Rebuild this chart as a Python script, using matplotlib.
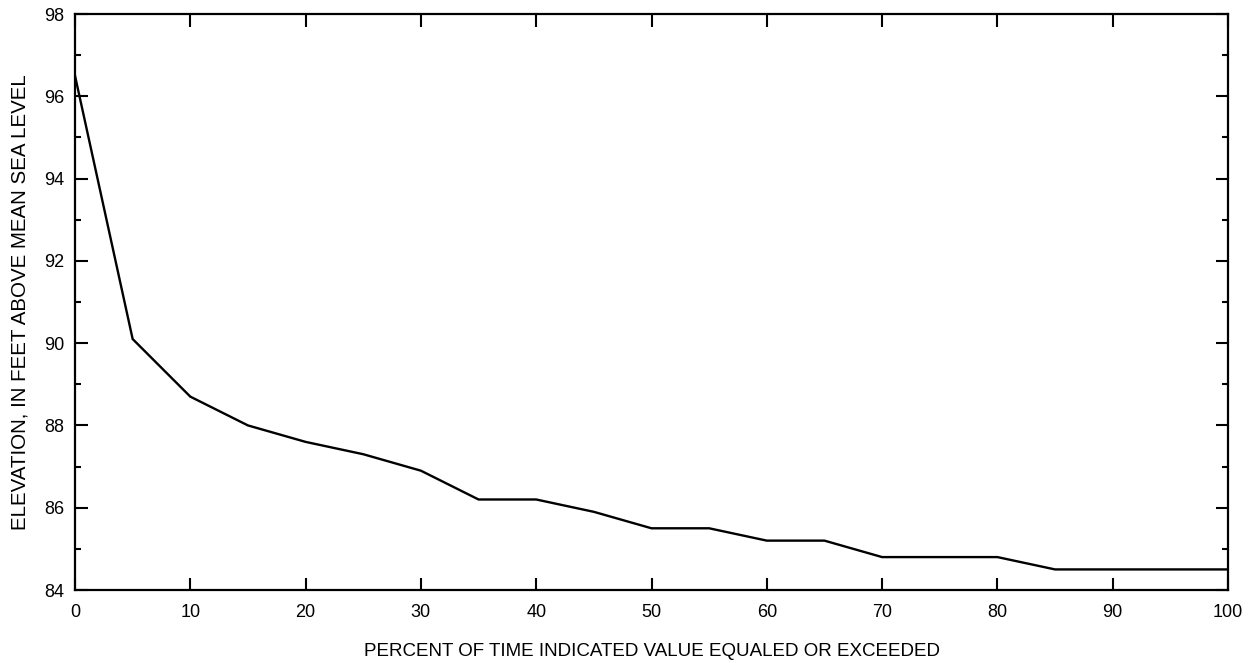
import matplotlib
matplotlib.use("Agg")
import matplotlib.pyplot as plt
from matplotlib.ticker import MultipleLocator

plt.rcParams['font.family'] = ['Liberation Sans', 'DejaVu Sans']

percent = [0, 5, 10, 15, 20, 25, 30, 35, 40, 45, 50, 55, 60, 65, 70, 75, 80, 85, 90, 95, 100]
elevation = [96.5, 90.1, 88.7, 88.0, 87.6, 87.3, 86.9, 86.2, 86.2, 85.9, 85.5, 85.5,
             85.2, 85.2, 84.8, 84.8, 84.8, 84.5, 84.5, 84.5, 84.5]
xlabel = "PERCENT OF TIME INDICATED VALUE EQUALED OR EXCEEDED"
ylabel = "ELEVATION, IN FEET ABOVE MEAN SEA LEVEL"

fig = plt.figure(figsize=(12.53, 6.63), dpi=100)
ax = fig.add_axes([75/1253, 1-590/663, (1228-75)/1253, (590-14)/663])
ax.plot(percent, elevation, color='black', lw=1.7, solid_joinstyle='miter')
ax.set_xlim(0, 100)
ax.set_ylim(84, 98)
ax.xaxis.set_major_locator(MultipleLocator(10))
ax.yaxis.set_major_locator(MultipleLocator(2))
ax.yaxis.set_minor_locator(MultipleLocator(1))
ax.tick_params(which='both', direction='in', top=True, right=True, width=1.5,
               labelsize=13, colors='black')
ax.tick_params(which='major', length=9)
ax.tick_params(axis='x', which='major', pad=10)
ax.tick_params(axis='y', which='major', pad=8)
ax.tick_params(which='minor', length=4.5)
for s in ax.spines.values():
    s.set_linewidth(1.6)
ax.set_xlabel(xlabel, fontsize=13.5, labelpad=16)
ax.set_ylabel(ylabel, fontsize=14.8, labelpad=10)
fig.savefig("out.png", dpi=100)
